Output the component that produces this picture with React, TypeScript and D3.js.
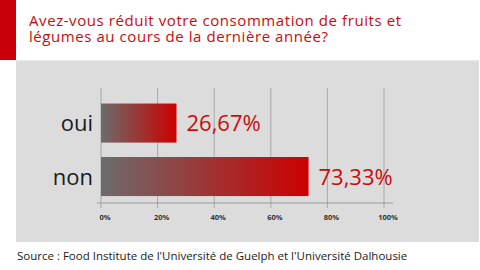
import React from "react";
import * as d3 from "d3";

const titleLines = [
  "Avez-vous réduit votre consommation de fruits et",
  "légumes au cours de la dernière année?",
];
const categories = ["oui", "non"];
const values = [26.67, 73.33];
const valueLabels = ["26,67%", "73,33%"];
const ticks = [0, 20, 40, 60, 80, 100];
const tickLabels = ["0%", "20%", "40%", "60%", "80%", "100%"];
const source = "Source : Food Institute de l'Université de Guelph et l'Université Dalhousie";

const titleWidths = [372, 299];

export default function App() {
  const x = d3.scaleLinear().domain([0, 100]).range([101, 384]);
  const y = d3
    .scaleBand<string>()
    .domain(categories)
    .range([96.3, 203.3])
    .paddingInner(0.27)
    .paddingOuter(0.135);
  const axisY = 203;
  const red = "#cc0a0a";
  const font = "'Open Sans', sans-serif";
  return (
    <svg
      width={480}
      height={270}
      style={{ position: "absolute", left: 0, top: 0, background: "#fff" }}
    >
      <defs>
        <linearGradient id="barGrad" x1="0" x2="1" y1="0" y2="0">
          <stop offset="0%" stopColor="#6c6c6c" />
          <stop offset="100%" stopColor="#cc0000" />
        </linearGradient>
      </defs>
      <rect x={0} y={0} width={480} height={270} fill="#fff" />
      <rect x={0} y={0} width={16} height={60} fill="#c8000a" />
      {titleLines.map((t, i) => (
        <text
          key={i}
          x={29}
          y={26 + i * 15.5}
          fill={red}
          fontFamily={font}
          fontSize={15}
          textLength={titleWidths[i]}
          lengthAdjust="spacing"
        >
          {t}
        </text>
      ))}
      <rect x={16} y={60} width={463} height={182} fill="#dcdcdc" />
      <rect x={16} y={60} width={463} height={1.5} fill="#e8e8e8" />
      {ticks.map((t) => (
        <line
          key={t}
          x1={x(t)}
          x2={x(t)}
          y1={88}
          y2={208}
          stroke="#a8a8a8"
          strokeWidth={1}
        />
      ))}
      <line x1={97} x2={393} y1={axisY} y2={axisY} stroke="#999" strokeWidth={1} />
      {ticks.map((t, i) => (
        <text
          key={"l" + t}
          x={x(t) + 4}
          y={220}
          textAnchor="middle"
          fontFamily={font}
          fontSize={7.5}
          fontWeight={700}
          fill="#333"
        >
          {tickLabels[i]}
        </text>
      ))}
      {categories.map((c, i) => {
        const y0 = y(c)!;
        const bw = y.bandwidth();
        return (
          <g key={c}>
            <rect
              x={x(0)}
              y={y0}
              width={x(values[i]) - x(0)}
              height={bw}
              fill="url(#barGrad)"
            />
            <text
              x={93}
              y={y0 + bw / 2 + 8}
              textAnchor="end"
              fontFamily={font}
              fontSize={22}
              fill="#1a1a1a"
            >
              {c}
            </text>
            <text
              x={x(values[i]) + 10}
              y={y0 + bw / 2 + 8}
              fontFamily={font}
              fontSize={22}
              fill={red}
            >
              {valueLabels[i]}
            </text>
          </g>
        );
      })}
      <text x={17} y={260} fontFamily={font} fontSize={11.5} fill="#1a1a1a">
        {source}
      </text>
    </svg>
  );
}
